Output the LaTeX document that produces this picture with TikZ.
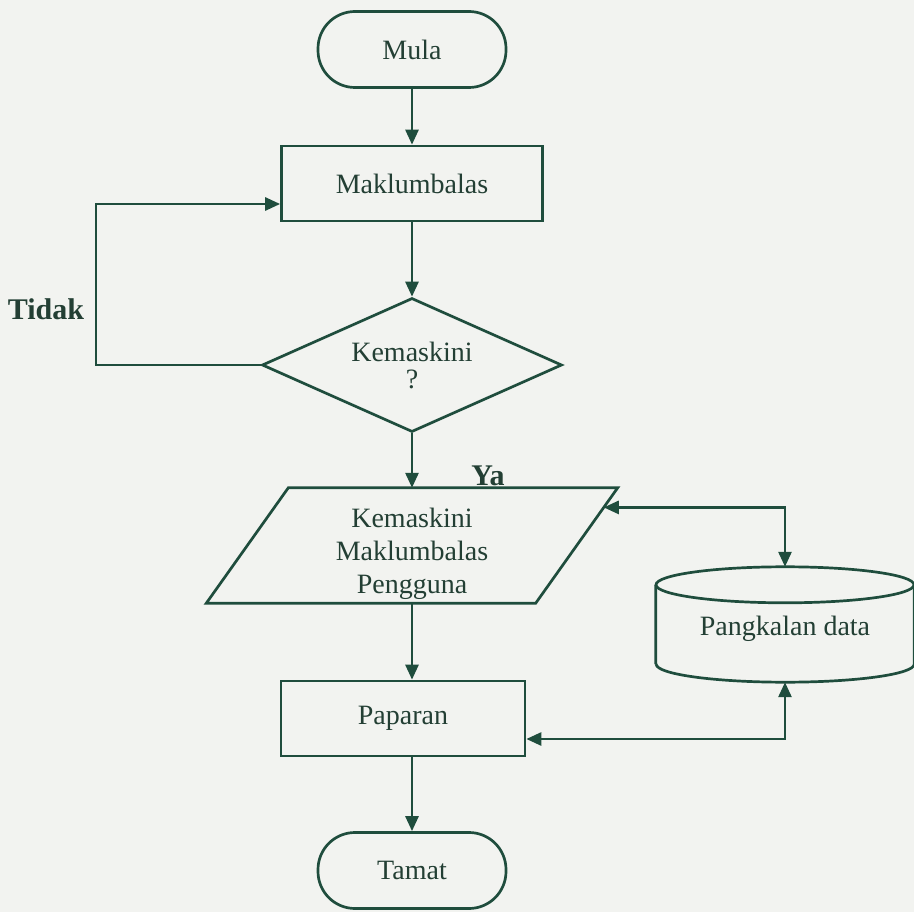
\documentclass[tikz,border=0pt]{standalone}
\usepackage{fontspec}
\setmainfont{Liberation Serif}
\usetikzlibrary{arrows.meta,shapes.geometric,calc}
\definecolor{ink}{HTML}{1F4D3D}
\definecolor{txt}{HTML}{233F34}
\definecolor{paper}{HTML}{F2F3F0}

\begin{document}
\begin{tikzpicture}[x=1pt,y=-1pt,
  >={Triangle[length=15pt,width=13pt]},
  every node/.style={text=txt, font=\fontsize{28}{33}\selectfont},
  shape line/.style={draw=ink, line width=2.7pt},
  terminal/.style={shape line, rectangle, rounded corners=37pt,
    minimum width=188pt, minimum height=76pt, inner sep=0pt},
  process/.style={shape line, rectangle, inner sep=0pt},
  decision/.style={shape line, diamond, aspect=2.24, minimum width=300pt,
    minimum height=134pt, inner sep=0pt, align=center,
    font=\fontsize{28}{27}\selectfont},
  frame/.style={rectangle, inner sep=0pt, align=center},
  flow/.style={draw=ink, line width=2.7pt, ->},
  both/.style={draw=ink, line width=2.7pt, <->},
  tag/.style={font=\bfseries\fontsize{30}{33}\selectfont}
]
% page and background
\fill[paper] (0,0) rectangle (914,912);
\useasboundingbox (0,0) rectangle (914,912);

% main column
\node[terminal] (mula) at (412,49.5) {Mula};
\node[process, minimum width=261pt, minimum height=75pt] (mak) at (412,183.5) {Maklumbalas};
\node[decision] (dia) at (412,365) {Kemaskini\\?};
\node[frame, minimum width=329pt, minimum height=115pt] (para) at (412,545.5) {};
\node[align=center] (paratext) at (412,554) {Kemaskini\\Maklumbalas\\Pengguna};
\node[process, minimum width=244pt, minimum height=75pt] (pap) at (403,718.5) {Paparan};
\node[terminal] (tamat) at (412,870.5) {Tamat};

% data store on the right
\node[frame, minimum width=258pt, minimum height=115pt] (db) at (785,624.5) {};
\node (dbtext) at (785,629) {Pangkalan data};

% input/output parallelogram outline
\coordinate (pTL) at ($(para.north west)+(41,0)$);
\coordinate (pTR) at ($(para.north east)+(41,0)$);
\coordinate (pBR) at ($(para.south east)+(-41,0)$);
\coordinate (pBL) at ($(para.south west)+(-41,0)$);
\draw[shape line, line join=miter] (pTL) -- (pTR) -- (pBR) -- (pBL) -- cycle;

% cylinder outline
\draw[shape line] ($(db.south west)+(0,-18)$) -- ($(db.north west)+(0,18)$)
  ($(db.north east)+(0,18)$) -- ($(db.south east)+(0,-18)$)
  arc[start angle=0, end angle=-180, x radius=129pt, y radius=18pt];
\draw[shape line] ($(db.north)+(0,18)$) ellipse [x radius=129pt, y radius=18pt];

% labels
\node[tag] (tidak) at (46,309) {Tidak};
\node[tag] (ya) at (488,476) {Ya};

% connectors
\coordinate (loopx) at (96,0);
\draw[flow] (mula.south) -- (mak.north);
\draw[flow] (mak.south) -- (dia.north);
\draw[flow] (dia.west) -- (dia.west -| loopx) |- ($(mak.west)+(0,20.5)$);
\draw[flow] (dia.south) -- (para.north);
\draw[flow] (para.south) -- (para.south |- pap.north);
\draw[flow] (tamat.north |- pap.south) -- (tamat.north);
\draw[both] ($(pTR)!0.17!(pBR)$) -| (db.north);
\draw[both] ($(pap.east)+(0,20.5)$) -| (db.south);
\end{tikzpicture}
\end{document}
